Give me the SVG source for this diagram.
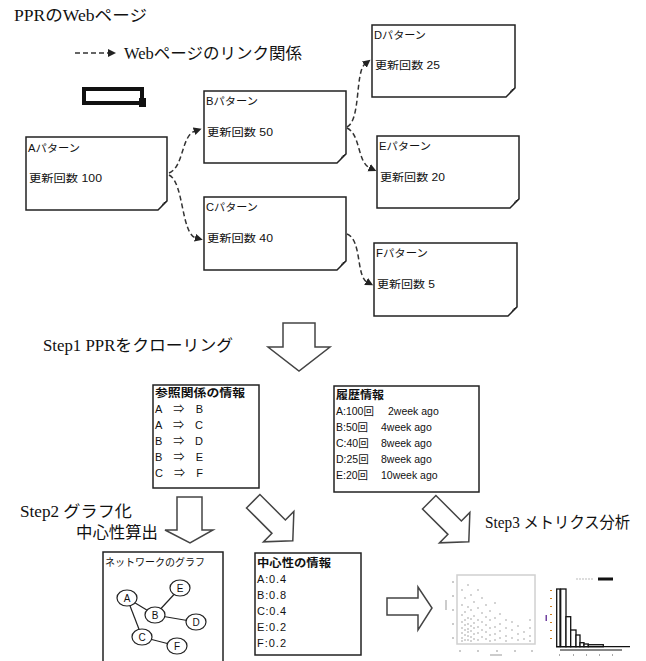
<svg xmlns="http://www.w3.org/2000/svg" width="646" height="661" viewBox="0 0 646 661">
<style>
.ttl{font-family:"Liberation Serif","Noto Sans CJK JP",serif;font-size:16px;fill:#111}
.nt{font-family:"Liberation Sans","Noto Sans CJK JP",sans-serif;font-size:10.5px;fill:#111}
.it{font-family:"Liberation Sans","Noto Sans CJK JP",sans-serif;font-size:11px;fill:#111}
.hd{font-family:"Liberation Sans","Noto Sans CJK JP",sans-serif;font-size:11px;font-weight:bold;fill:#111}
.box{fill:#fff;stroke:#222;stroke-width:1.5}
.fold{fill:#ccc;stroke:#222;stroke-width:1}
.ibox{fill:#fff;stroke:#222;stroke-width:1.5}
.con{fill:none;stroke:#333;stroke-width:1.5;stroke-dasharray:5 3}
.blk{fill:#fff;stroke:#444;stroke-width:1.5;stroke-linejoin:miter}
.nd{fill:#fff;stroke:#222;stroke-width:1.2}
.edge{stroke:#222;stroke-width:1.2}
.cl{font-family:"Liberation Sans",sans-serif;font-size:10px;fill:#111;text-anchor:middle}
.dot{fill:none;stroke:#9a9a9a;stroke-width:1.6;stroke-linecap:round}
</style>
<defs>
<marker id="ah" markerUnits="userSpaceOnUse" markerWidth="9" markerHeight="9" refX="1" refY="4" orient="auto">
<path d="M0,0 L8,4 L0,8 Z" fill="#222"/>
</marker>
<path id="diag" d="M-9.5,-28 L9.5,-28 L9.5,8 L21.5,8 L0,28 L-21.5,8 L-9.5,8 Z"/>
</defs>

<!-- titles -->
<text class="ttl" x="14" y="21" textLength="133" lengthAdjust="spacingAndGlyphs">PPRのWebページ</text>
<g id="legend">
<line x1="75" y1="53" x2="108" y2="53" class="con"/>
<path d="M108,49 L116,53 L108,57 Z" fill="#222"/>
<text class="ttl" x="124" y="59" textLength="178" lengthAdjust="spacingAndGlyphs">Webページのリンク関係</text>
</g>
<g id="blackrect">
<rect x="84" y="89" width="58" height="14" fill="none" stroke="#111" stroke-width="4"/>
<rect x="139" y="98" width="7" height="9" fill="#111"/>
</g>

<!-- nodes -->
<g id="nodeA" transform="translate(26,137)">
<path class="box" d="M0,0 H141 V64 L132,73 H0 Z"/>
<path class="fold" d="M141,64 Q136,66 136,69 Q134,71 132,73 Z"/>
<text class="nt" x="2" y="15" textLength="52" lengthAdjust="spacingAndGlyphs">Aパターン</text>
<text class="nt" x="3" y="45" textLength="73" lengthAdjust="spacingAndGlyphs">更新回数 100</text>
</g>
<g id="nodeB" transform="translate(204,91)">
<path class="box" d="M0,0 H142 V63 L133,72 H0 Z"/>
<path class="fold" d="M142,63 Q137,65 137,68 Q135,70 133,72 Z"/>
<text class="nt" x="2" y="14" textLength="52" lengthAdjust="spacingAndGlyphs">Bパターン</text>
<text class="nt" x="3" y="45" textLength="66" lengthAdjust="spacingAndGlyphs">更新回数 50</text>
</g>
<g id="nodeC" transform="translate(204,197)">
<path class="box" d="M0,0 H142 V64 L133,73 H0 Z"/>
<path class="fold" d="M142,64 Q137,66 137,69 Q135,71 133,73 Z"/>
<text class="nt" x="2" y="14" textLength="52" lengthAdjust="spacingAndGlyphs">Cパターン</text>
<text class="nt" x="3" y="45" textLength="66" lengthAdjust="spacingAndGlyphs">更新回数 40</text>
</g>
<g id="nodeD" transform="translate(372,25)">
<path class="box" d="M0,0 H143 V63 L134,72 H0 Z"/>
<path class="fold" d="M143,63 Q138,65 138,68 Q136,70 134,72 Z"/>
<text class="nt" x="2" y="14" textLength="52" lengthAdjust="spacingAndGlyphs">Dパターン</text>
<text class="nt" x="3" y="44" textLength="65" lengthAdjust="spacingAndGlyphs">更新回数 25</text>
</g>
<g id="nodeE" transform="translate(377,136)">
<path class="box" d="M0,0 H142 V63 L133,72 H0 Z"/>
<path class="fold" d="M142,63 Q137,65 137,68 Q135,70 133,72 Z"/>
<text class="nt" x="2" y="14" textLength="52" lengthAdjust="spacingAndGlyphs">Eパターン</text>
<text class="nt" x="3" y="45" textLength="65" lengthAdjust="spacingAndGlyphs">更新回数 20</text>
</g>
<g id="nodeF" transform="translate(374,243)">
<path class="box" d="M0,0 H143 V64 L134,73 H0 Z"/>
<path class="fold" d="M143,64 Q138,66 138,69 Q136,71 134,73 Z"/>
<text class="nt" x="2" y="14" textLength="52" lengthAdjust="spacingAndGlyphs">Fパターン</text>
<text class="nt" x="3" y="45" textLength="58" lengthAdjust="spacingAndGlyphs">更新回数 5</text>
</g>

<!-- connectors -->
<g id="connectors">
<path class="con" marker-end="url(#ah)" d="M169,173 C184,167 181,136 195,131"/>
<path class="con" marker-end="url(#ah)" d="M169,175 C184,182 181,234 196,238"/>
<path class="con" marker-end="url(#ah)" d="M347,127 C361,120 355,72 365,64"/>
<path class="con" marker-end="url(#ah)" d="M347,128 C361,135 357,162 370,168"/>
<path class="con" marker-end="url(#ah)" d="M347,234 C362,240 356,276 367,282"/>
</g>

<!-- step 1 -->
<text class="ttl" x="43" y="351" textLength="190" lengthAdjust="spacingAndGlyphs">Step1 PPRをクローリング</text>
<path id="arrow1" class="blk" d="M283,323 H315 V347 H330 L299,371 L268,347 H283 Z"/>

<g id="refinfo">
<rect class="ibox" x="153" y="385" width="106" height="103"/>
<text class="hd" x="155" y="397" textLength="90" lengthAdjust="spacingAndGlyphs">参照関係の情報</text>
<text class="it" x="155" y="413" textLength="48" lengthAdjust="spacing">A ⇒ B</text>
<text class="it" x="155" y="429" textLength="48" lengthAdjust="spacing">A ⇒ C</text>
<text class="it" x="155" y="445" textLength="48" lengthAdjust="spacing">B ⇒ D</text>
<text class="it" x="155" y="461" textLength="48" lengthAdjust="spacing">B ⇒ E</text>
<text class="it" x="155" y="477" textLength="48" lengthAdjust="spacing">C ⇒ F</text>
</g>
<g id="history">
<rect class="ibox" x="334" y="386" width="145" height="106"/>
<text class="hd" x="336" y="399" textLength="48" lengthAdjust="spacingAndGlyphs">履歴情報</text>
<text class="nt" x="336" y="415">A:100回<tspan x="388">2week ago</tspan></text>
<text class="nt" x="336" y="431">B:50回<tspan x="381">4week ago</tspan></text>
<text class="nt" x="336" y="447">C:40回<tspan x="381">8week ago</tspan></text>
<text class="nt" x="336" y="463">D:25回<tspan x="381">8week ago</tspan></text>
<text class="nt" x="336" y="479">E:20回<tspan x="381">10week ago</tspan></text>
</g>

<!-- step 2 -->
<text class="ttl" x="20" y="517" textLength="112" lengthAdjust="spacingAndGlyphs">Step2 グラフ化</text>
<text class="ttl" x="76" y="538" textLength="82" lengthAdjust="spacingAndGlyphs">中心性算出</text>
<path id="arrow2" class="blk" d="M177,497 H202 V530 H213 L190,543 L165,530 H177 Z"/>
<use id="arrow3" href="#diag" class="blk" transform="translate(273,521) rotate(-45)"/>
<use id="arrow4" href="#diag" class="blk" transform="translate(449,522) rotate(-45)"/>
<text class="ttl" x="485" y="528" textLength="145" lengthAdjust="spacingAndGlyphs">Step3 メトリクス分析</text>

<g id="network">
<rect class="ibox" x="103" y="552" width="120" height="120"/>
<text class="nt" x="105" y="566" textLength="100" lengthAdjust="spacingAndGlyphs">ネットワークのグラフ</text>
<line class="edge" x1="127" y1="598" x2="155" y2="615"/>
<line class="edge" x1="127" y1="598" x2="142" y2="637"/>
<line class="edge" x1="155" y1="615" x2="180" y2="588"/>
<line class="edge" x1="155" y1="615" x2="196" y2="622"/>
<line class="edge" x1="142" y1="637" x2="177" y2="646"/>
<ellipse class="nd" cx="127" cy="598" rx="10" ry="8"/><text class="cl" x="127" y="602">A</text>
<ellipse class="nd" cx="180" cy="588" rx="10" ry="8"/><text class="cl" x="180" y="592">E</text>
<ellipse class="nd" cx="155" cy="615" rx="10" ry="8"/><text class="cl" x="155" y="619">B</text>
<ellipse class="nd" cx="196" cy="622" rx="10" ry="8"/><text class="cl" x="196" y="626">D</text>
<ellipse class="nd" cx="142" cy="637" rx="10" ry="8"/><text class="cl" x="142" y="641">C</text>
<ellipse class="nd" cx="177" cy="646" rx="10" ry="8"/><text class="cl" x="177" y="650">F</text>
</g>

<g id="centrality">
<rect class="ibox" x="255" y="553" width="106" height="102"/>
<text class="hd" x="257" y="567" textLength="74" lengthAdjust="spacingAndGlyphs">中心性の情報</text>
<text class="it" x="257" y="583" textLength="29" lengthAdjust="spacing">A:0.4</text>
<text class="it" x="257" y="599" textLength="29" lengthAdjust="spacing">B:0.8</text>
<text class="it" x="257" y="615" textLength="29" lengthAdjust="spacing">C:0.4</text>
<text class="it" x="257" y="631" textLength="29" lengthAdjust="spacing">E:0.2</text>
<text class="it" x="257" y="647" textLength="29" lengthAdjust="spacing">F:0.2</text>
</g>

<path id="arrow5" class="blk" d="M387,598 H418 V587 L432,608 L418,630 V615 H387 Z"/>

<g id="scatter">
<rect x="457" y="575" width="78" height="69" fill="#fff" stroke="#d0d0d0" stroke-width="1.5"/>
<path class="dot" d="M462,590h0 M462,605h0 M462,615h0 M462,622h0 M462,628h0 M462,633h0 M462,638h0 M462,641h0
M465,598h0 M465,612h0 M465,620h0 M465,625h0 M465,630h0 M465,635h0 M465,640h0
M468,585h0 M468,607h0 M468,618h0 M468,624h0 M468,629h0 M468,632h0 M468,636h0 M468,640h0
M471,595h0 M471,610h0 M471,619h0 M471,626h0 M471,631h0 M471,637h0 M471,641h0
M474,602h0 M474,616h0 M474,623h0 M474,628h0 M474,634h0 M474,639h0
M478,590h0 M478,608h0 M478,620h0 M478,627h0 M478,633h0 M478,640h0
M482,598h0 M482,613h0 M482,622h0 M482,630h0 M482,637h0
M486,605h0 M486,617h0 M486,625h0 M486,632h0 M486,639h0
M490,611h0 M490,620h0 M490,628h0 M490,635h0 M490,641h0
M495,603h0 M495,618h0 M495,627h0 M495,634h0 M495,640h0
M500,614h0 M500,624h0 M500,631h0 M500,638h0
M506,620h0 M506,628h0 M506,636h0 M506,641h0
M512,622h0 M512,630h0 M512,638h0
M518,626h0 M518,634h0 M518,640h0
M524,632h0 M524,639h0
M530,620h0 M530,628h0 M530,636h0 M530,641h0"/>
<path d="M452,582h2 M452,596h2 M452,610h2 M452,624h2 M452,638h2 M460,650v2 M478,650v2 M497,650v2 M515,650v2 M532,650v2" stroke="#bbb" stroke-width="1.5"/>
<rect x="445" y="600" width="2" height="10" fill="#ccc"/>
<rect x="490" y="654" width="12" height="2" fill="#ccc"/>
</g>

<g id="histogram">
<path d="M576,579h18" stroke="#bbb" stroke-width="1" stroke-dasharray="2 1"/>
<rect x="598" y="577.5" width="15" height="3" fill="#111"/>
<path d="M551,590v1 M551,598v1 M551,606v1 M551,614v1 M551,622v1 M551,630v1 M551,638v1" stroke="#d08020" stroke-width="2"/>
<rect x="545.5" y="615" width="1.5" height="6" fill="#7040a0"/>
<g fill="#fff" stroke="#111" stroke-width="1.3">
<rect x="556.7" y="589" width="3.3" height="57.7"/>
<rect x="560.7" y="589" width="5.3" height="57.7"/>
<rect x="566" y="616.7" width="4.7" height="30"/>
<rect x="570.7" y="630" width="5.3" height="16.7"/>
<rect x="576" y="635" width="4" height="11.7"/>
<rect x="580" y="642.7" width="4" height="4"/>
<rect x="584" y="644" width="4.3" height="2.7"/>
<rect x="588.3" y="644.7" width="15" height="2"/>
</g>
<line x1="556" y1="646.7" x2="630" y2="646.7" stroke="#111" stroke-width="1.3"/>
<line x1="560" y1="650" x2="622" y2="650" stroke="#111" stroke-width="1.2"/>
<path d="M559,655h1 M573,655h1 M586,655h1 M599,655h1 M612,655h1" stroke="#555" stroke-width="1"/>
</g>
</svg>
